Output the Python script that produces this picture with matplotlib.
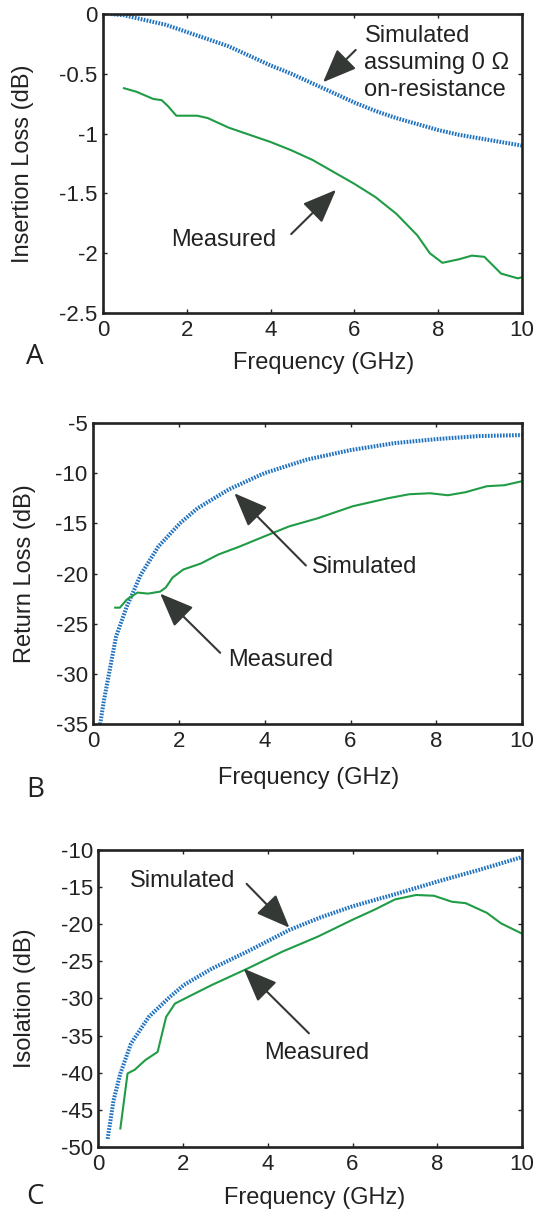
import matplotlib
matplotlib.use('Agg')
import matplotlib.pyplot as plt

plt.rcParams['font.family'] = ['Liberation Sans', 'DejaVu Sans']

# Panel A - insertion loss
il_sim_f = [0.19, 0.5, 1.0, 1.5, 2.0, 2.5, 3.0, 3.5, 4.0, 4.5, 5.0, 5.5, 6.0, 6.5, 7.0, 7.5, 8.0, 8.5, 9.0, 9.5, 10.0]
il_sim = [0.0, -0.01, -0.05, -0.09, -0.15, -0.21, -0.27, -0.35, -0.43, -0.50, -0.58, -0.66, -0.74, -0.81, -0.87, -0.92, -0.97, -1.01, -1.04, -1.07, -1.10]
il_meas_f = [0.5, 0.8, 1.0, 1.2, 1.4, 1.55, 1.75, 2.0, 2.25, 2.5, 3.0, 3.5, 4.0, 4.5, 5.0, 5.5, 6.0, 6.5, 7.0, 7.5, 7.8, 8.1, 8.5, 8.8, 9.1, 9.3, 9.5, 9.9, 10.0]
il_meas = [-0.62, -0.65, -0.68, -0.71, -0.72, -0.77, -0.85, -0.85, -0.85, -0.87, -0.95, -1.01, -1.07, -1.14, -1.22, -1.32, -1.42, -1.53, -1.67, -1.85, -2.00, -2.08, -2.05, -2.02, -2.03, -2.10, -2.17, -2.21, -2.20]

# Panel B - return loss
rl_sim_f = [0.16, 0.25, 0.37, 0.53, 0.78, 1.11, 1.52, 2.02, 2.43, 3.17, 3.99, 4.98, 6.0, 7.04, 8.02, 9.0, 10.0]
rl_sim = [-35.0, -32.6, -29.9, -26.3, -23.3, -20.1, -17.3, -15.0, -13.5, -11.6, -10.0, -8.65, -7.7, -7.0, -6.6, -6.3, -6.2]
rl_meas_f = [0.51, 0.62, 0.78, 1.03, 1.28, 1.56, 1.69, 1.85, 2.1, 2.51, 2.92, 3.42, 3.99, 4.57, 5.23, 6.05, 6.87, 7.37, 7.86, 8.27, 8.68, 9.18, 9.59, 10.0]
rl_meas = [-23.4, -23.4, -22.6, -21.9, -22.0, -21.8, -21.4, -20.4, -19.6, -19.0, -18.1, -17.3, -16.3, -15.3, -14.5, -13.3, -12.5, -12.1, -12.0, -12.2, -11.9, -11.3, -11.2, -10.8]

# Panel C - isolation
iso_sim_f = [0.22, 0.36, 0.52, 0.77, 1.19, 1.69, 2.02, 2.68, 3.52, 4.51, 5.25, 6.01, 7.0, 8.0, 9.0, 10.0]
iso_sim = [-48.9, -43.7, -40.1, -36.1, -32.5, -29.8, -28.2, -26.0, -23.7, -20.8, -19.1, -17.6, -16.0, -14.3, -12.7, -11.0]
iso_meas_f = [0.52, 0.69, 0.86, 1.11, 1.40, 1.60, 1.81, 2.19, 2.68, 3.52, 4.35, 5.18, 6.01, 6.51, 7.0, 7.5, 7.92, 8.34, 8.67, 9.17, 9.5, 10.0]
iso_meas = [-47.5, -40.1, -39.6, -38.3, -37.2, -32.5, -30.7, -29.6, -28.2, -26.0, -23.7, -21.7, -19.4, -18.1, -16.7, -16.1, -16.2, -17.0, -17.2, -18.5, -19.9, -21.3]

blue = '#1f72c0'
green = '#1f9c45'
arrow_col = '#353935'
ink = '#222222'

fig = plt.figure(figsize=(5.53, 12.11), dpi=100)


def style_axes(ax, ylim, yticks, ylabel, ylab_x, xlab_y, xlab_x):
    ax.set_xlim(0, 10)
    ax.set_ylim(*ylim)
    ax.set_xticks([0, 2, 4, 6, 8, 10])
    ax.set_yticks(yticks)
    ax.set_yticklabels([f'{t:g}' for t in yticks])
    ax.tick_params(direction='in', length=3, width=1, labelsize=16, top=True, right=True,
                   colors=ink, labelcolor=ink)
    ax.tick_params(axis='x', pad=5)
    ax.tick_params(axis='y', pad=4)
    for s in ax.spines.values():
        s.set_linewidth(1.9)
        s.set_color(ink)
    ax.set_xlabel('Frequency (GHz)', fontsize=17, color=ink, va='center')
    ax.set_ylabel(ylabel, fontsize=17, color=ink, va='center')
    ax.yaxis.set_label_coords(ylab_x, 0.5)
    ax.xaxis.set_label_coords(xlab_x, xlab_y)


def arrow(ax, tail, tip):
    ax.annotate('', xy=tip, xytext=tail,
                arrowprops=dict(arrowstyle='-|>,head_length=2.1,head_width=0.85',
                                mutation_scale=10, lw=1.5, color=arrow_col,
                                shrinkA=0, shrinkB=0))


sim_style = dict(color=blue, lw=2.9, linestyle=(0, (0.42, 0.33)))
meas_style = dict(color=green, lw=1.5)

# A
axA = fig.add_axes([0.1863, 0.7415, 0.7577, 0.2469])
axA.plot(il_sim_f, il_sim, **sim_style)
axA.plot(il_meas_f, il_meas, **meas_style)
style_axes(axA, (-2.5, 0), [-2.5, -2, -1.5, -1, -0.5, 0], 'Insertion Loss (dB)', -0.192, -0.167, 0.527)
axA.text(6.24, -0.41, 'Simulated\nassuming 0 \u03a9\non-resistance', fontsize=17,
         ha='left', va='center', color=ink, linespacing=1.3)
arrow(axA, (6.03, -0.30), (5.25, -0.57))
axA.text(1.63, -1.89, 'Measured', fontsize=17, ha='left', va='center', color=ink)
arrow(axA, (4.49, -1.84), (5.56, -1.47))

# B
axB = fig.add_axes([0.1687, 0.4021, 0.7752, 0.2486])
axB.plot(rl_sim_f, rl_sim, **sim_style)
axB.plot(rl_meas_f, rl_meas, **meas_style)
style_axes(axB, (-35, -5), [-35, -30, -25, -20, -15, -10, -5], 'Return Loss (dB)', -0.160, -0.179, 0.502)
axB.text(5.1, -19.3, 'Simulated', fontsize=17, ha='left', va='center', color=ink)
arrow(axB, (4.96, -19.2), (3.29, -12.0))
axB.text(3.15, -28.6, 'Measured', fontsize=17, ha='left', va='center', color=ink)
arrow(axB, (2.96, -27.9), (1.56, -22.0))

# C
axC = fig.add_axes([0.1778, 0.0528, 0.7662, 0.2456])
axC.plot(iso_sim_f, iso_sim, **sim_style)
axC.plot(iso_meas_f, iso_meas, **meas_style)
style_axes(axC, (-50, -10), [-50, -45, -40, -35, -30, -25, -20, -15, -10], 'Isolation (dB)', -0.172, -0.171, 0.51)
axC.text(0.75, -14.2, 'Simulated', fontsize=17, ha='left', va='center', color=ink)
arrow(axC, (3.5, -14.6), (4.51, -20.5))
axC.text(3.92, -37.4, 'Measured', fontsize=17, ha='left', va='center', color=ink)
arrow(axC, (4.97, -34.7), (3.43, -26.0))

# panel letters
for letter, ypix in [('A', 357), ('B', 790), ('C', 1197)]:
    fig.text(35 / 553, 1 - ypix / 1211, letter, fontsize=20, family='Open Sans',
             ha='center', va='center', color=ink)

fig.savefig('out.png', dpi=100)
